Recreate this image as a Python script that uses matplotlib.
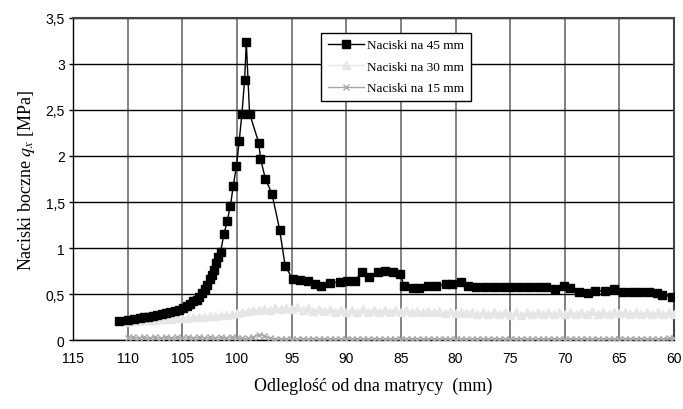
import matplotlib
matplotlib.use("Agg")
from matplotlib import pyplot as plt

plt.rcParams["mathtext.fontset"] = "stix"

# odleglosc od dna matrycy (mm) i naciski boczne (MPa)
x45 = [110.8, 110.0, 109.4, 108.9, 108.5, 108.1, 107.7, 107.3, 106.9, 106.5,
       106.1, 105.7, 105.3, 104.9, 104.6, 104.3, 104.0, 103.7, 103.45, 103.2,
       102.95, 102.7, 102.5, 102.3, 102.1, 101.9, 101.7, 101.5,
       101.2, 100.9, 100.6, 100.35, 100.05, 99.8, 99.55, 99.3, 99.15, 98.85,
       98.0, 97.85, 97.4, 96.8, 96.1, 95.6, 94.9, 94.2, 93.5, 92.9,
       92.3, 91.5, 90.6, 89.9, 89.2, 88.6, 87.9, 87.1, 86.5, 85.75,
       85.1, 84.7, 83.9, 83.3, 82.5, 81.8, 80.9, 80.3, 79.5, 78.9,
       78.1, 77.3, 76.5, 75.7, 74.9, 74.1, 73.3, 72.5, 71.7, 70.9,
       70.1, 69.5, 68.7, 67.9, 67.2, 66.3, 65.5, 64.7, 63.9, 63.1,
       62.3, 61.6, 61.1, 60.2]
y45 = [0.21, 0.22, 0.23, 0.24, 0.25, 0.255, 0.26, 0.27, 0.28, 0.29,
       0.30, 0.32, 0.33, 0.35, 0.37, 0.39, 0.42, 0.44, 0.47, 0.51,
       0.55, 0.60, 0.66, 0.71, 0.76, 0.84, 0.90, 0.96,
       1.15, 1.29, 1.46, 1.67, 1.89, 2.16, 2.46, 2.83, 3.24, 2.46,
       2.14, 1.97, 1.75, 1.59, 1.20, 0.81, 0.66, 0.65, 0.645, 0.61,
       0.59, 0.62, 0.63, 0.645, 0.645, 0.735, 0.69, 0.74, 0.75, 0.735,
       0.72, 0.59, 0.57, 0.57, 0.59, 0.59, 0.61, 0.61, 0.63, 0.59,
       0.58, 0.58, 0.58, 0.58, 0.58, 0.58, 0.58, 0.58, 0.58, 0.56,
       0.59, 0.57, 0.525, 0.51, 0.535, 0.535, 0.555, 0.52, 0.52, 0.52,
       0.52, 0.51, 0.49, 0.47]

xs = [110.0, 109.5, 109.0, 108.5, 108.0, 107.5, 107.0, 106.5, 106.0, 105.5,
      105.0, 104.5, 104.0, 103.5, 103.0, 102.5, 102.0, 101.5, 101.0, 100.5,
      100.0, 99.5, 99.0, 98.5, 98.0, 97.5, 97.0, 96.5, 96.0, 95.5,
      95.0, 94.5, 94.0, 93.5, 93.0, 92.5, 92.0, 91.5, 91.0, 90.5,
      90.0, 89.5, 89.0, 88.5, 88.0, 87.5, 87.0, 86.5, 86.0, 85.5,
      85.0, 84.5, 84.0, 83.5, 83.0, 82.5, 82.0, 81.5, 81.0, 80.5,
      80.0, 79.5, 79.0, 78.5, 78.0, 77.5, 77.0, 76.5, 76.0, 75.5,
      75.0, 74.5, 74.0, 73.5, 73.0, 72.5, 72.0, 71.5, 71.0, 70.5,
      70.0, 69.5, 69.0, 68.5, 68.0, 67.5, 67.0, 66.5, 66.0, 65.5,
      65.0, 64.5, 64.0, 63.5, 63.0, 62.5, 62.0, 61.5, 61.0, 60.5,
      60.0]
y30 = [0.20, 0.21, 0.21, 0.22, 0.22, 0.22, 0.23, 0.23, 0.23, 0.24, 0.24,
       0.24, 0.25, 0.25, 0.25, 0.26, 0.26, 0.27, 0.27, 0.28, 0.29,
       0.31, 0.32, 0.33, 0.33, 0.34, 0.33, 0.35, 0.34, 0.35, 0.34,
       0.36, 0.33, 0.35, 0.32, 0.34, 0.32, 0.34, 0.31, 0.33, 0.31,
       0.33, 0.31, 0.34, 0.31, 0.33, 0.30, 0.33, 0.31, 0.33, 0.30,
       0.33, 0.30, 0.32, 0.30, 0.32, 0.30, 0.32, 0.29, 0.32, 0.29,
       0.31, 0.29, 0.31, 0.28, 0.30, 0.28, 0.30, 0.28, 0.30, 0.27,
       0.30, 0.27, 0.30, 0.28, 0.30, 0.28, 0.31, 0.28, 0.30, 0.28,
       0.31, 0.28, 0.31, 0.28, 0.32, 0.28, 0.31, 0.28, 0.31, 0.29,
       0.31, 0.28, 0.31, 0.28, 0.31, 0.28, 0.30, 0.28, 0.30, 0.28]
y15 = [0.02, 0.03, 0.02, 0.03, 0.02, 0.03, 0.02, 0.03, 0.02, 0.03, 0.02,
       0.03, 0.02, 0.03, 0.02, 0.03, 0.02, 0.03, 0.02, 0.03, 0.02,
       0.02, 0.02, 0.03, 0.06, 0.05, 0.02, 0.01, 0.015, 0.01, 0.015,
       0.01, 0.015, 0.01, 0.015, 0.01, 0.015, 0.01, 0.015, 0.01, 0.015,
       0.01, 0.015, 0.01, 0.015, 0.01, 0.015, 0.01, 0.015, 0.01, 0.015,
       0.01, 0.015, 0.01, 0.015, 0.01, 0.015, 0.01, 0.015, 0.01, 0.015,
       0.01, 0.015, 0.01, 0.015, 0.01, 0.015, 0.01, 0.015, 0.01, 0.015,
       0.01, 0.015, 0.01, 0.015, 0.01, 0.015, 0.01, 0.015, 0.01, 0.015,
       0.01, 0.015, 0.01, 0.015, 0.01, 0.015, 0.01, 0.015, 0.01, 0.015,
       0.01, 0.015, 0.01, 0.015, 0.01, 0.015, 0.01, 0.015, 0.02, 0.02]

xticks = [115, 110, 105, 100, 95, 90, 85, 80, 75, 70, 65, 60]
yticks = [0, 0.5, 1, 1.5, 2, 2.5, 3, 3.5]
ylabels = ["0", "0,5", "1", "1,5", "2", "2,5", "3", "3,5"]

fig = plt.figure(figsize=(6.83, 4.10), dpi=100)
ax = fig.add_axes([0.107, 0.168, 0.880, 0.786])

ax.plot(xs, y15, color="#a8a8a8", marker="x", ms=4.5, mew=1, lw=1,
        label="Naciski na 15 mm", zorder=3)
ax.plot(xs, y30, color="#e6e6e6", marker="^", ms=5.5, lw=1,
        label="Naciski na 30 mm", zorder=4)
ax.plot(x45, y45, color="black", marker="s", ms=6, lw=1,
        label="Naciski na 45 mm", zorder=5)

ax.set_xlim(115, 60)
ax.set_ylim(0, 3.5)
ax.set_xticks(xticks)
ax.set_xticklabels([str(t) for t in xticks], fontfamily="Liberation Sans", fontsize=10)
ax.set_yticks(yticks)
ax.set_yticklabels(ylabels, fontfamily="Liberation Sans", fontsize=10)
ax.tick_params(axis="y", direction="out", length=3, width=1, pad=3)
ax.tick_params(axis="x", length=0, pad=8)

ax.yaxis.grid(True, color="black", lw=1)
ax.xaxis.grid(True, color="#777777", lw=1.3)
ax.set_axisbelow(True)
for s in ["top", "right"]:
    ax.spines[s].set_color("#444444")
    ax.spines[s].set_linewidth(1.5)
for s in ["left", "bottom"]:
    ax.spines[s].set_color("black")
    ax.spines[s].set_linewidth(1)

ax.set_xlabel("Odleglość od dna matrycy  (mm)", fontfamily="Liberation Serif",
              fontsize=13, labelpad=8)
ax.set_ylabel("Naciski boczne $q_x$ [MPa]", fontfamily="Liberation Serif",
              fontsize=13, labelpad=6)

h, l = ax.get_legend_handles_labels()
leg = ax.legend(h[::-1], l[::-1], loc="upper left", bbox_to_anchor=(0.402, 0.975),
                prop={"family": "Liberation Serif", "size": 9.5}, frameon=True,
                fancybox=False, edgecolor="black", framealpha=1,
                handlelength=2.7, borderpad=0.5, labelspacing=0.7, handletextpad=0.3)
leg.get_frame().set_linewidth(1)

fig.savefig("out.png", dpi=100)
